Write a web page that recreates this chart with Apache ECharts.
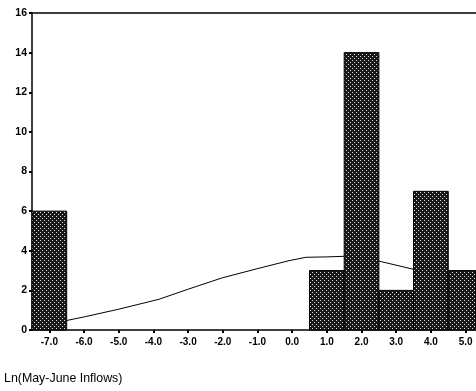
<!DOCTYPE html>
<html><head><meta charset="utf-8">
<script src="https://cdn.jsdelivr.net/npm/echarts@6/dist/echarts.min.js"></script>
<style>html,body{margin:0;padding:0;background:#fff;}#c{width:476px;height:391px;}</style>
</head><body><div id="c"></div>
<script>
var binCenters = [-7, 1, 2, 3, 4, 5];
var binCounts = [6, 3, 14, 2, 7, 3];
var curveX = [-7.5, -7.0, -6.53, -6.0, -5.0, -3.84, -2.98, -2.02, -1.04, -0.09, 0.40, 1.01, 1.50, 2.0, 2.57, 3.53, 4.0, 4.5, 5.0, 5.3];
var curveY = [0.3, 0.38, 0.47, 0.66, 1.05, 1.55, 2.07, 2.63, 3.08, 3.5, 3.67, 3.69, 3.72, 3.62, 3.45, 3.05, 2.8, 2.55, 2.25, 2.08];
var xTicks = [-7, -6, -5, -4, -3, -2, -1, 0, 1, 2, 3, 4, 5];
var yTicks = [0, 2, 4, 6, 8, 10, 12, 14, 16];
var axisTitle = 'Ln(May-June Inflows)';

var pc = document.createElement('canvas');
pc.width = 4; pc.height = 4;
var g = pc.getContext('2d');
g.fillStyle = '#181818'; g.fillRect(0, 0, 4, 4);
g.fillStyle = '#e4e4e4';
g.fillRect(0, 0, 1, 1); g.fillRect(2, 2, 1, 1);

var chart = echarts.init(document.getElementById('c'), null, {renderer: 'canvas'});
var font = 'Arial, "Liberation Sans", sans-serif';
chart.setOption({
  animation: false,
  title: {text: axisTitle, left: 4, top: 373, padding: 0, textStyle: {fontSize: 12.4, fontWeight: 'normal', color: '#000', fontFamily: font}},
  grid: {left: 32, right: 0, top: 13, bottom: 61, show: false},
  xAxis: [{
    type: 'value', min: -7.5, max: 5.3,
    axisLine: {show: true, onZero: false, lineStyle: {color: '#000', width: 1.5}},
    axisTick: {show: true, customValues: xTicks, length: 3, lineStyle: {color: '#000', width: 2}},
    axisLabel: {customValues: xTicks, formatter: function (v) { return v.toFixed(1); }, fontSize: 10, fontWeight: 'bold', color: '#000', fontFamily: font, margin: 7},
    splitLine: {show: false}
  }, {
    type: 'value', position: 'top', min: -7.5, max: 5.3,
    axisLine: {show: true, onZero: false, lineStyle: {color: '#000', width: 1.5}},
    axisTick: {show: false}, axisLabel: {show: false}, splitLine: {show: false}
  }],
  yAxis: {
    type: 'value', min: 0, max: 16, interval: 2, position: 'left',
    axisLine: {show: true, onZero: false, lineStyle: {color: '#000', width: 1.5}},
    axisTick: {show: true, length: 3, lineStyle: {color: '#000', width: 2}},
    axisLabel: {customValues: yTicks, fontSize: 10.5, fontWeight: 'bold', color: '#000', fontFamily: font, margin: 5},
    splitLine: {show: false}
  },
  series: [{
    type: 'line', xAxisIndex: 0,
    data: curveX.map(function (x, i) { return [x, curveY[i]]; }),
    showSymbol: false, smooth: false, z: 1,
    lineStyle: {color: '#000', width: 1}
  }, {
    type: 'custom', xAxisIndex: 0, z: 3,
    data: binCenters.map(function (x, i) { return [x, binCounts[i]]; }),
    renderItem: function (params, api) {
      var x = api.value(0), y = api.value(1);
      var p0 = api.coord([x - 0.5, y]);
      var p1 = api.coord([x + 0.5, 0]);
      var rect = echarts.graphic.clipRectByRect(
        {x: p0[0], y: p0[1], width: p1[0] - p0[0], height: p1[1] - p0[1]},
        {x: params.coordSys.x, y: params.coordSys.y, width: params.coordSys.width, height: params.coordSys.height});
      if (!rect) return;
      return {type: 'rect', shape: rect, style: {fill: {image: pc, repeat: 'repeat'}, stroke: '#000', lineWidth: 1}};
    }
  }]
});
</script></body></html>
